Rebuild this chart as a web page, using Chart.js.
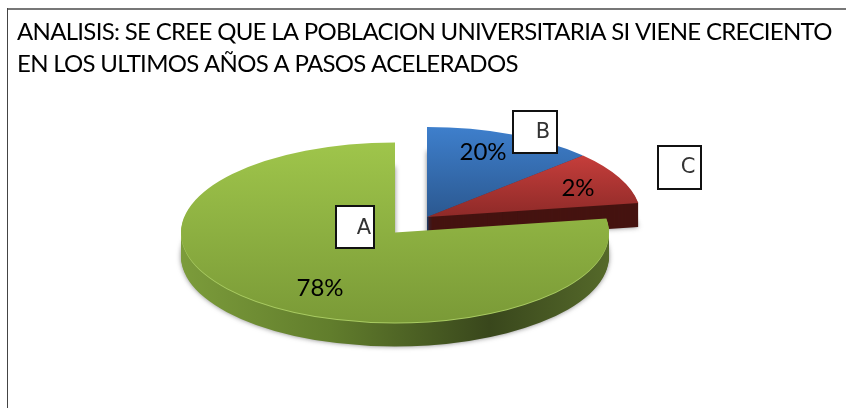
<!DOCTYPE html>
<html><head><meta charset="utf-8">
<style>html,body{margin:0;padding:0;background:#fff}#w{position:relative;width:846px;height:408px}</style>
<script src="https://cdn.jsdelivr.net/npm/chart.js@4"></script>
</head><body><div id="w"><canvas id="c" width="846" height="408"></canvas></div>
<script>
// Slice shares as drawn in the picture (measured from the ellipse angles)
const categories = ['B', 'C', 'A'];
const drawnShares = [13, 9.5, 77.5];
// Percentages printed on the picture
const printedLabels = ['20%', '2%', '78%'];
const titleLines = ['ANALISIS: SE CREE QUE LA POBLACION UNIVERSITARIA SI VIENE CRECIENTO',
                    'EN LOS ULTIMOS AÑOS A PASOS ACELERADOS'];

const R = 150, CX = 427, CY = 217, RX = 214, RY = 90, DEPTH = 24;
const SX = RX / R, SY = RY / R;
const EXPLODE_X = -32 / SX, EXPLODE_Y = 15.5 / SY;
const FONT = 'Lato';
const labelPos = [[483, 152], [578, 188], [320, 288]];
const boxes = [[513, 111, 44, 42, 543, 133], [658, 146, 43, 43, 688, 168], [336, 206, 38, 42, 364, 229]];
const faceColors = [['#3e7fcc', '#2b5890'], ['#c63e3b', '#8e2a28'], ['#9fc54b', '#7a9a37']];

function faceFill(c) {
  const i = c.dataIndex, area = c.chart.chartArea;
  if (!area) return faceColors[i][0];
  const g = c.chart.ctx, y = (area.top + area.bottom) / 2;
  const spans = [[-R, 0], [-0.69 * R, 0], [-R + EXPLODE_Y, R + EXPLODE_Y]];
  const gr = g.createLinearGradient(0, y + spans[i][0], 0, y + spans[i][1]);
  gr.addColorStop(0, faceColors[i][0]); gr.addColorStop(1, faceColors[i][1]);
  return gr;
}

const pie3d = {
  id: 'pie3d',
  afterDatasetUpdate(chart) {
    const green = chart.getDatasetMeta(0).data[2];
    green.x += EXPLODE_X;
    green.y += EXPLODE_Y;
  },
  beforeDraw(chart) {
    const g = chart.ctx;
    g.save();
    g.fillStyle = '#777'; g.fillRect(7, 8, 839, 2);
    g.fillStyle = '#444'; g.fillRect(7, 8, 1, 400);
    g.restore();
    g.letterSpacing = '-0.7px';
  },
  beforeDatasetsDraw(chart) {
    const g = chart.ctx, arcs = chart.getDatasetMeta(0).data, a0 = arcs[0];
    g.letterSpacing = '0px';
    g.save();
    g.translate(CX, CY); g.scale(SX, SY); g.translate(-a0.x, -a0.y);
    const x0 = a0.x + EXPLODE_X, step = 1 / SY;
    const greenSide = g.createLinearGradient(x0 - R, 0, x0 + R, 0);
    greenSide.addColorStop(0, '#7c9c3b');
    greenSide.addColorStop(0.35, '#617d2c');
    greenSide.addColorStop(0.72, '#39471c');
    greenSide.addColorStop(1, '#55692a');
    const sides = ['#1f3f6a', '#451310', greenSide];
    const rims = [null, null, '#a9cb62'];
    arcs.forEach((arc, i) => {
      const saved = arc.options;
      for (let d = DEPTH; d >= 1; d--) {
        const o = Object.create(saved);
        o.backgroundColor = (d === 1 && rims[i]) ? rims[i] : sides[i];
        o.borderWidth = 0;
        arc.options = o;
        g.save();
        if (d === DEPTH) {
          g.shadowColor = 'rgba(70,70,70,0.65)';
          g.shadowBlur = 5;
        }
        g.translate(0, d * step);
        arc.draw(g);
        g.restore();
      }
      arc.options = saved;
    });
  },
  afterDatasetsDraw(chart) {
    const g = chart.ctx;
    g.restore();
    g.save();
    g.textBaseline = 'middle'; g.textAlign = 'center';
    boxes.forEach((b, i) => {
      g.fillStyle = '#fff'; g.fillRect(b[0], b[1], b[2], b[3]);
      g.strokeStyle = '#111'; g.lineWidth = 2; g.strokeRect(b[0], b[1], b[2], b[3]);
      g.fillStyle = '#333'; g.font = '21px "DejaVu Sans"';
      g.fillText(categories[i], b[4], b[5]);
    });
    g.fillStyle = '#000'; g.font = '24px ' + FONT;
    printedLabels.forEach((t, i) => g.fillText(t, labelPos[i][0], labelPos[i][1]));
    g.restore();
  }
};

new Chart(document.getElementById('c'), {
  type: 'pie',
  data: {
    labels: categories,
    datasets: [{
      data: drawnShares,
      radius: R,
      clip: false,
      backgroundColor: faceFill,
      borderWidth: 0
    }]
  },
  options: {
    responsive: false,
    animation: false,
    rotation: 0,
    layout: { padding: { left: 17, top: 16, right: 0, bottom: 0 } },
    plugins: {
      legend: { display: false },
      tooltip: { enabled: false },
      title: {
        display: true, text: titleLines, align: 'start', color: '#000',
        font: { family: FONT, size: 24, weight: 'normal', lineHeight: 1.33 },
        padding: { top: 0, bottom: 4 }
      }
    }
  },
  plugins: [pie3d]
});
</script></body></html>
